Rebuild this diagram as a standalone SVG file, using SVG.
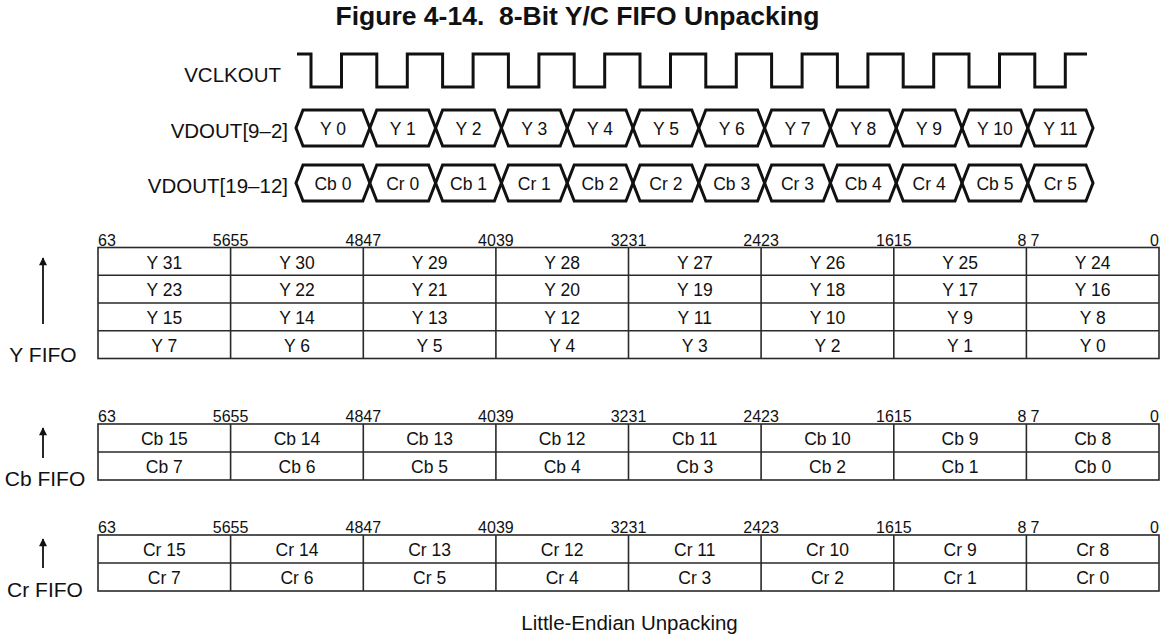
<svg xmlns="http://www.w3.org/2000/svg" width="1161" height="634" viewBox="0 0 1161 634">
<style>
text{font-family:"Liberation Sans",Arial,sans-serif;fill:#111}
.title{font-size:26.5px;font-weight:bold;text-anchor:middle;white-space:pre}
.lbl{font-size:20.5px;text-anchor:end}
.fifo{font-size:21px;text-anchor:middle}
.cap{font-size:20.5px;text-anchor:middle}
.bt{font-size:17.5px;text-anchor:middle}
.ct{font-size:17.5px;text-anchor:middle}
.bn{font-size:16px}
.bnr{font-size:16px;text-anchor:end}
.clk{fill:none;stroke:#111;stroke-width:3;stroke-linejoin:miter}
.bub{fill:none;stroke:#111;stroke-width:3;stroke-linejoin:miter}
.tbl{fill:none;stroke:#2a2a2a;stroke-width:1.6}
.arr{stroke:#111;stroke-width:1.8}
</style>
<defs>
<marker id="ah" viewBox="0 0 10 10" refX="9" refY="5" markerWidth="12" markerHeight="8" orient="auto" markerUnits="userSpaceOnUse"><path d="M0,0 L10,5 L0,10 z" fill="#111"/></marker>
</defs>
<text class="title" x="577.5" y="25" xml:space="preserve">Figure 4-14.  8-Bit Y/C FIFO Unpacking</text>

<g id="vclkout">
<text class="lbl" x="281" y="82">VCLKOUT</text>
<path class="clk" d="M297,54 H311 V87 H341.5 V54 H376.8 V87 H407.3 V54 H442.6 V87 H473.1 V54 H508.4 V87 H538.9 V54 H574.2 V87 H604.7 V54 H640 V87 H670.5 V54 H705.8 V87 H736.3 V54 H771.6 V87 H802.1 V54 H837.4 V87 H867.9 V54 H903.2 V87 H933.7 V54 H969 V87 H999.5 V54 H1034.8 V87 H1065.3 V54 H1087"/>
</g>

<g id="vdout9_2">
<text class="lbl" x="288" y="138">VDOUT[9–2]</text>
<path class="bub" d="M296,128 L303,110 L362.8,110 L369.8,128 L362.8,146 L303,146 Z"/>
<path class="bub" d="M369.8,128 L376.8,110 L428.6,110 L435.6,128 L428.6,146 L376.8,146 Z"/>
<path class="bub" d="M435.6,128 L442.6,110 L494.4,110 L501.4,128 L494.4,146 L442.6,146 Z"/>
<path class="bub" d="M501.4,128 L508.4,110 L560.2,110 L567.2,128 L560.2,146 L508.4,146 Z"/>
<path class="bub" d="M567.2,128 L574.2,110 L626,110 L633,128 L626,146 L574.2,146 Z"/>
<path class="bub" d="M633,128 L640,110 L691.8,110 L698.8,128 L691.8,146 L640,146 Z"/>
<path class="bub" d="M698.8,128 L705.8,110 L757.6,110 L764.6,128 L757.6,146 L705.8,146 Z"/>
<path class="bub" d="M764.6,128 L771.6,110 L823.4,110 L830.4,128 L823.4,146 L771.6,146 Z"/>
<path class="bub" d="M830.4,128 L837.4,110 L889.2,110 L896.2,128 L889.2,146 L837.4,146 Z"/>
<path class="bub" d="M896.2,128 L903.2,110 L955,110 L962,128 L955,146 L903.2,146 Z"/>
<path class="bub" d="M962,128 L969,110 L1020.8,110 L1027.8,128 L1020.8,146 L969,146 Z"/>
<path class="bub" d="M1027.8,128 L1034.8,110 L1086,110 L1093,128 L1086,146 L1034.8,146 Z"/>
<text class="bt" x="332.9" y="134.5">Y 0</text>
<text class="bt" x="402.7" y="134.5">Y 1</text>
<text class="bt" x="468.5" y="134.5">Y 2</text>
<text class="bt" x="534.3" y="134.5">Y 3</text>
<text class="bt" x="600.1" y="134.5">Y 4</text>
<text class="bt" x="665.9" y="134.5">Y 5</text>
<text class="bt" x="731.7" y="134.5">Y 6</text>
<text class="bt" x="797.5" y="134.5">Y 7</text>
<text class="bt" x="863.3" y="134.5">Y 8</text>
<text class="bt" x="929.1" y="134.5">Y 9</text>
<text class="bt" x="994.9" y="134.5">Y 10</text>
<text class="bt" x="1060.4" y="134.5">Y 11</text>
</g>

<g id="vdout19_12">
<text class="lbl" x="288" y="193">VDOUT[19–12]</text>
<path class="bub" d="M296,183 L303,165 L362.8,165 L369.8,183 L362.8,201 L303,201 Z"/>
<path class="bub" d="M369.8,183 L376.8,165 L428.6,165 L435.6,183 L428.6,201 L376.8,201 Z"/>
<path class="bub" d="M435.6,183 L442.6,165 L494.4,165 L501.4,183 L494.4,201 L442.6,201 Z"/>
<path class="bub" d="M501.4,183 L508.4,165 L560.2,165 L567.2,183 L560.2,201 L508.4,201 Z"/>
<path class="bub" d="M567.2,183 L574.2,165 L626,165 L633,183 L626,201 L574.2,201 Z"/>
<path class="bub" d="M633,183 L640,165 L691.8,165 L698.8,183 L691.8,201 L640,201 Z"/>
<path class="bub" d="M698.8,183 L705.8,165 L757.6,165 L764.6,183 L757.6,201 L705.8,201 Z"/>
<path class="bub" d="M764.6,183 L771.6,165 L823.4,165 L830.4,183 L823.4,201 L771.6,201 Z"/>
<path class="bub" d="M830.4,183 L837.4,165 L889.2,165 L896.2,183 L889.2,201 L837.4,201 Z"/>
<path class="bub" d="M896.2,183 L903.2,165 L955,165 L962,183 L955,201 L903.2,201 Z"/>
<path class="bub" d="M962,183 L969,165 L1020.8,165 L1027.8,183 L1020.8,201 L969,201 Z"/>
<path class="bub" d="M1027.8,183 L1034.8,165 L1086,165 L1093,183 L1086,201 L1034.8,201 Z"/>
<text class="bt" x="332.9" y="189.5">Cb 0</text>
<text class="bt" x="402.7" y="189.5">Cr 0</text>
<text class="bt" x="468.5" y="189.5">Cb 1</text>
<text class="bt" x="534.3" y="189.5">Cr 1</text>
<text class="bt" x="600.1" y="189.5">Cb 2</text>
<text class="bt" x="665.9" y="189.5">Cr 2</text>
<text class="bt" x="731.7" y="189.5">Cb 3</text>
<text class="bt" x="797.5" y="189.5">Cr 3</text>
<text class="bt" x="863.3" y="189.5">Cb 4</text>
<text class="bt" x="929.1" y="189.5">Cr 4</text>
<text class="bt" x="994.9" y="189.5">Cb 5</text>
<text class="bt" x="1060.4" y="189.5">Cr 5</text>
</g>

<g id="y-fifo">
<text class="fifo" x="43" y="362">Y FIFO</text>
<g class="bits">
<text class="bn" x="98" y="245.5">63</text><text class="bnr" x="230.6" y="245.5">56</text>
<text class="bn" x="230.6" y="245.5">55</text><text class="bnr" x="363.3" y="245.5">48</text>
<text class="bn" x="363.3" y="245.5">47</text><text class="bnr" x="495.9" y="245.5">40</text>
<text class="bn" x="495.9" y="245.5">39</text><text class="bnr" x="628.5" y="245.5">32</text>
<text class="bn" x="628.5" y="245.5">31</text><text class="bnr" x="761.1" y="245.5">24</text>
<text class="bn" x="761.1" y="245.5">23</text><text class="bnr" x="893.8" y="245.5">16</text>
<text class="bn" x="893.8" y="245.5">15</text><text class="bnr" x="1026.4" y="245.5">8</text>
<text class="bn" x="1030.4" y="245.5">7</text><text class="bnr" x="1159" y="245.5">0</text>
</g>
<rect class="tbl" x="98" y="247.5" width="1061" height="111"/>
<path class="tbl" d="M98,275.25 H1159 M98,303 H1159 M98,330.75 H1159 M230.6,247.5 V358.5 M363.3,247.5 V358.5 M495.9,247.5 V358.5 M628.5,247.5 V358.5 M761.1,247.5 V358.5 M893.8,247.5 V358.5 M1026.4,247.5 V358.5"/>
<text class="ct" x="164.3" y="268.5">Y 31</text><text class="ct" x="297" y="268.5">Y 30</text><text class="ct" x="429.6" y="268.5">Y 29</text><text class="ct" x="562.2" y="268.5">Y 28</text><text class="ct" x="694.8" y="268.5">Y 27</text><text class="ct" x="827.5" y="268.5">Y 26</text><text class="ct" x="960.1" y="268.5">Y 25</text><text class="ct" x="1092.7" y="268.5">Y 24</text>
<text class="ct" x="164.3" y="296.25">Y 23</text><text class="ct" x="297" y="296.25">Y 22</text><text class="ct" x="429.6" y="296.25">Y 21</text><text class="ct" x="562.2" y="296.25">Y 20</text><text class="ct" x="694.8" y="296.25">Y 19</text><text class="ct" x="827.5" y="296.25">Y 18</text><text class="ct" x="960.1" y="296.25">Y 17</text><text class="ct" x="1092.7" y="296.25">Y 16</text>
<text class="ct" x="164.3" y="324">Y 15</text><text class="ct" x="297" y="324">Y 14</text><text class="ct" x="429.6" y="324">Y 13</text><text class="ct" x="562.2" y="324">Y 12</text><text class="ct" x="694.8" y="324">Y 11</text><text class="ct" x="827.5" y="324">Y 10</text><text class="ct" x="960.1" y="324">Y 9</text><text class="ct" x="1092.7" y="324">Y 8</text>
<text class="ct" x="164.3" y="351.75">Y 7</text><text class="ct" x="297" y="351.75">Y 6</text><text class="ct" x="429.6" y="351.75">Y 5</text><text class="ct" x="562.2" y="351.75">Y 4</text><text class="ct" x="694.8" y="351.75">Y 3</text><text class="ct" x="827.5" y="351.75">Y 2</text><text class="ct" x="960.1" y="351.75">Y 1</text><text class="ct" x="1092.7" y="351.75">Y 0</text>
</g>

<g id="cb-fifo">
<text class="fifo" x="45" y="486">Cb FIFO</text>
<g class="bits">
<text class="bn" x="98" y="422">63</text><text class="bnr" x="230.6" y="422">56</text>
<text class="bn" x="230.6" y="422">55</text><text class="bnr" x="363.3" y="422">48</text>
<text class="bn" x="363.3" y="422">47</text><text class="bnr" x="495.9" y="422">40</text>
<text class="bn" x="495.9" y="422">39</text><text class="bnr" x="628.5" y="422">32</text>
<text class="bn" x="628.5" y="422">31</text><text class="bnr" x="761.1" y="422">24</text>
<text class="bn" x="761.1" y="422">23</text><text class="bnr" x="893.8" y="422">16</text>
<text class="bn" x="893.8" y="422">15</text><text class="bnr" x="1026.4" y="422">8</text>
<text class="bn" x="1030.4" y="422">7</text><text class="bnr" x="1159" y="422">0</text>
</g>
<rect class="tbl" x="98" y="424" width="1061" height="56"/>
<path class="tbl" d="M98,452 H1159 M230.6,424 V480 M363.3,424 V480 M495.9,424 V480 M628.5,424 V480 M761.1,424 V480 M893.8,424 V480 M1026.4,424 V480"/>
<text class="ct" x="164.3" y="444.5">Cb 15</text><text class="ct" x="297" y="444.5">Cb 14</text><text class="ct" x="429.6" y="444.5">Cb 13</text><text class="ct" x="562.2" y="444.5">Cb 12</text><text class="ct" x="694.8" y="444.5">Cb 11</text><text class="ct" x="827.5" y="444.5">Cb 10</text><text class="ct" x="960.1" y="444.5">Cb 9</text><text class="ct" x="1092.7" y="444.5">Cb 8</text>
<text class="ct" x="164.3" y="472.5">Cb 7</text><text class="ct" x="297" y="472.5">Cb 6</text><text class="ct" x="429.6" y="472.5">Cb 5</text><text class="ct" x="562.2" y="472.5">Cb 4</text><text class="ct" x="694.8" y="472.5">Cb 3</text><text class="ct" x="827.5" y="472.5">Cb 2</text><text class="ct" x="960.1" y="472.5">Cb 1</text><text class="ct" x="1092.7" y="472.5">Cb 0</text>
</g>

<g id="cr-fifo">
<text class="fifo" x="45" y="597">Cr FIFO</text>
<g class="bits">
<text class="bn" x="98" y="533">63</text><text class="bnr" x="230.6" y="533">56</text>
<text class="bn" x="230.6" y="533">55</text><text class="bnr" x="363.3" y="533">48</text>
<text class="bn" x="363.3" y="533">47</text><text class="bnr" x="495.9" y="533">40</text>
<text class="bn" x="495.9" y="533">39</text><text class="bnr" x="628.5" y="533">32</text>
<text class="bn" x="628.5" y="533">31</text><text class="bnr" x="761.1" y="533">24</text>
<text class="bn" x="761.1" y="533">23</text><text class="bnr" x="893.8" y="533">16</text>
<text class="bn" x="893.8" y="533">15</text><text class="bnr" x="1026.4" y="533">8</text>
<text class="bn" x="1030.4" y="533">7</text><text class="bnr" x="1159" y="533">0</text>
</g>
<rect class="tbl" x="98" y="535" width="1061" height="56"/>
<path class="tbl" d="M98,563 H1159 M230.6,535 V591 M363.3,535 V591 M495.9,535 V591 M628.5,535 V591 M761.1,535 V591 M893.8,535 V591 M1026.4,535 V591"/>
<text class="ct" x="164.3" y="555.5">Cr 15</text><text class="ct" x="297" y="555.5">Cr 14</text><text class="ct" x="429.6" y="555.5">Cr 13</text><text class="ct" x="562.2" y="555.5">Cr 12</text><text class="ct" x="694.8" y="555.5">Cr 11</text><text class="ct" x="827.5" y="555.5">Cr 10</text><text class="ct" x="960.1" y="555.5">Cr 9</text><text class="ct" x="1092.7" y="555.5">Cr 8</text>
<text class="ct" x="164.3" y="583.5">Cr 7</text><text class="ct" x="297" y="583.5">Cr 6</text><text class="ct" x="429.6" y="583.5">Cr 5</text><text class="ct" x="562.2" y="583.5">Cr 4</text><text class="ct" x="694.8" y="583.5">Cr 3</text><text class="ct" x="827.5" y="583.5">Cr 2</text><text class="ct" x="960.1" y="583.5">Cr 1</text><text class="ct" x="1092.7" y="583.5">Cr 0</text>
</g>

<g id="connectors">
<line class="arr" x1="43" y1="324" x2="43" y2="258" marker-end="url(#ah)"/>
<line class="arr" x1="43" y1="458" x2="43" y2="428" marker-end="url(#ah)"/>
<line class="arr" x1="43" y1="568" x2="43" y2="539" marker-end="url(#ah)"/>
</g>

<text class="cap" x="629.5" y="630">Little-Endian Unpacking</text>
</svg>
